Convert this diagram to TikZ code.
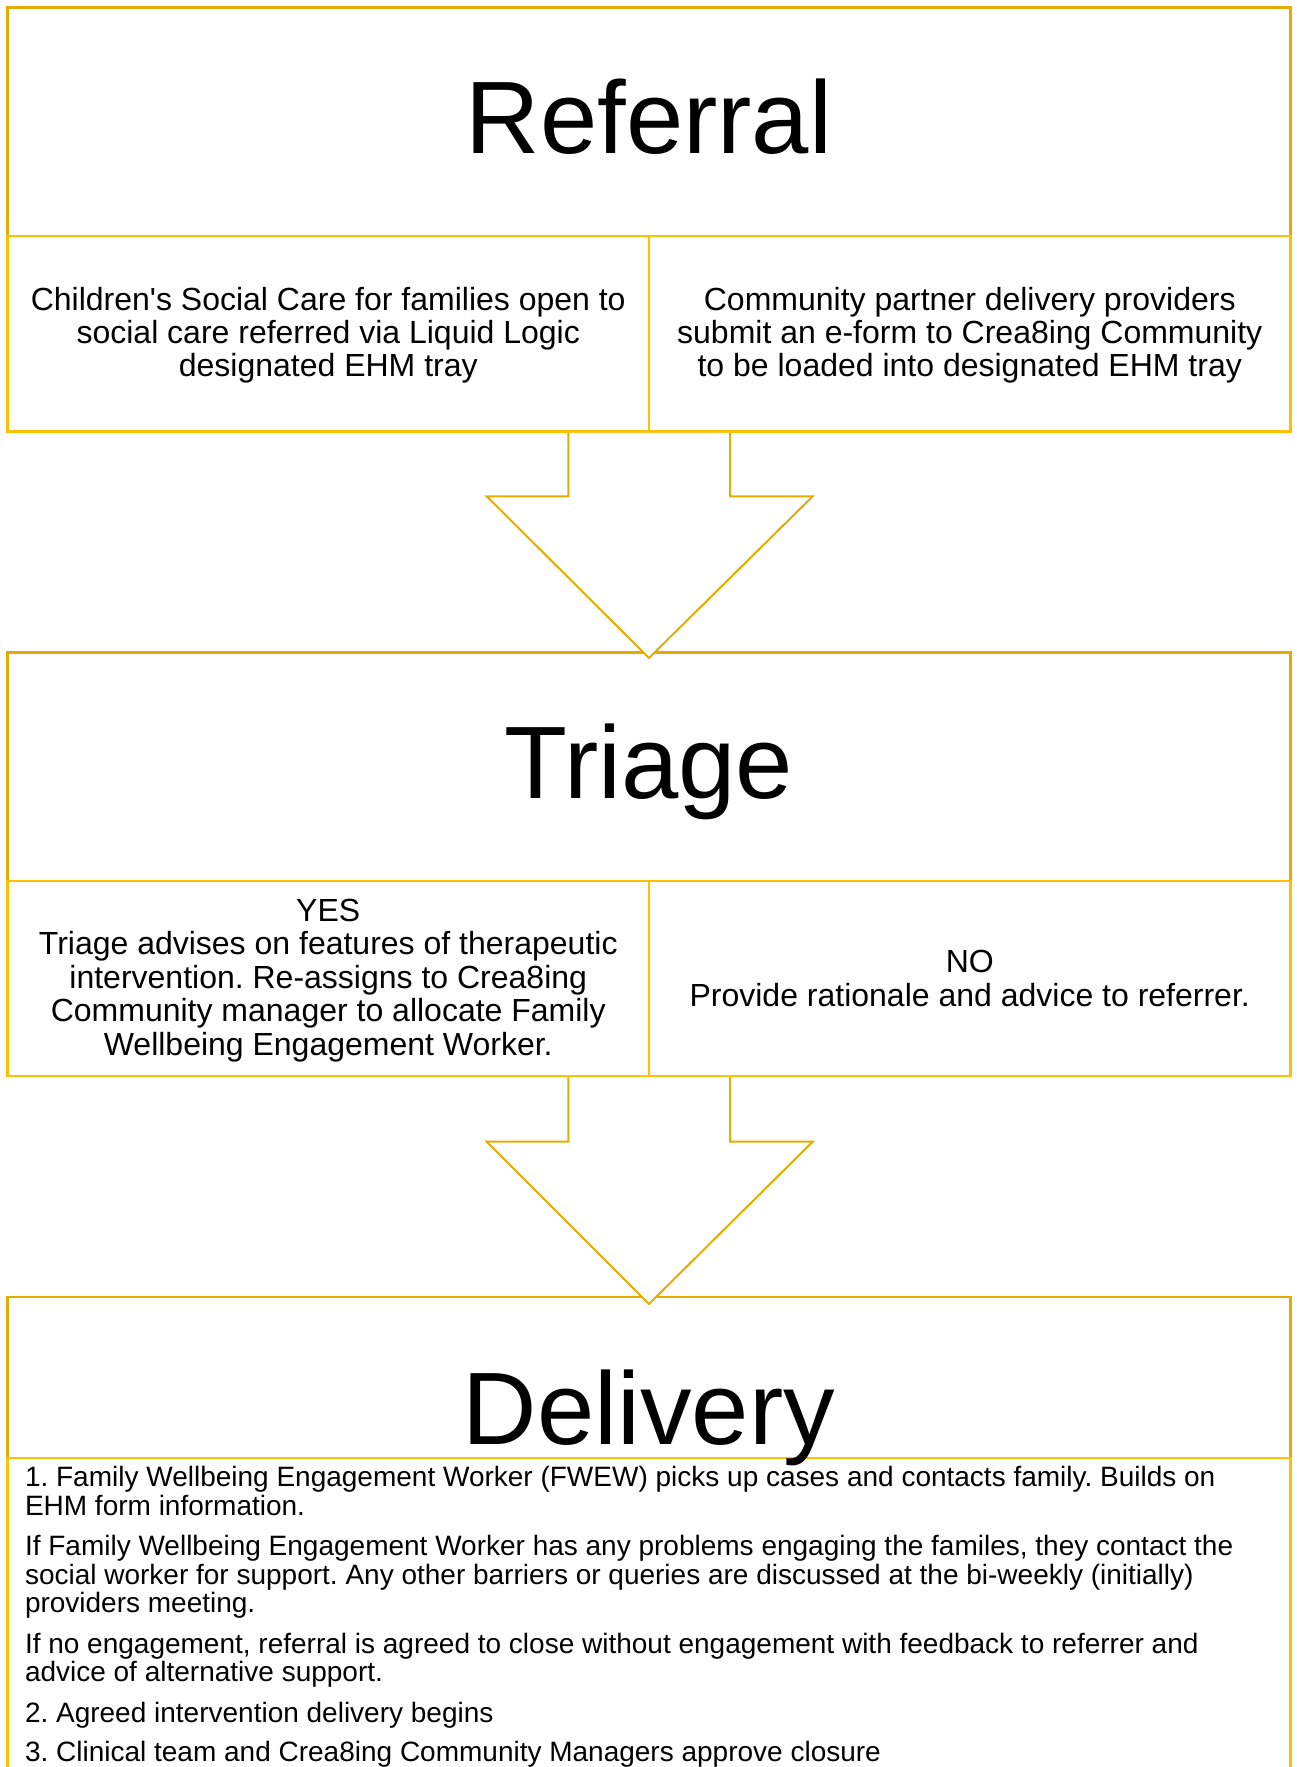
\documentclass[tikz,border=0pt]{standalone}
\usepackage{fontspec}
\setmainfont{Liberation Sans}
\usetikzlibrary{calc}
\definecolor{hdrgold}{HTML}{E6AA00}
\definecolor{rowgold}{HTML}{FFC000}
\definecolor{arrgold}{HTML}{E6AC00}
\frenchspacing
\tikzset{
  hdrbox/.style={draw=hdrgold, line width=2.5pt, anchor=north west, inner sep=0pt, outer sep=0pt},
  rowbox/.style={draw=rowgold, line width=2.5pt, anchor=north west, inner sep=0pt, outer sep=0pt},
  bigttl/.style={font=\fontsize{103}{110}\selectfont, inner sep=0pt, anchor=base},
  celltxt/.style={font=\fontsize{32}{33.3}\selectfont, align=center, inner sep=0pt},
  bodytxt/.style={font=\fontsize{28}{28.6}\selectfont, align=left, inner sep=0pt, anchor=base west},
  blockarrow/.style={draw=arrgold, line width=2pt, fill=white, line join=miter}
}
\begin{document}
\begin{tikzpicture}[x=1pt,y=-1pt]
\useasboundingbox (0,0) rectangle (1296,1767);
\clip (0,0) rectangle (1296,1767);

% ---------- Referral ----------
\node[hdrbox, minimum width=1283pt, minimum height=228.5pt] (refhdr) at (7.5,7.5) {};
\node[rowbox, minimum width=641.5pt, minimum height=195.5pt] (refL) at (7.5,236) {};
\node[rowbox, minimum width=641.5pt, minimum height=195.5pt] (refR) at (649,236) {};
\node[bigttl] (refttl) at (649,153.3) {Referral};
\node[celltxt] (refLtxt) at ($(refL.center)+(0,1.5)$) {Children\textquotesingle s Social Care for families open to\\social care referred via Liquid Logic\\designated EHM tray};
\node[celltxt] (refRtxt) at ($(refR.center)+(0,1.5)$) {Community partner delivery providers\\submit an e-form to Crea8ing Community\\to be loaded into designated EHM tray};

% ---------- Triage ----------
\node[hdrbox, minimum width=1283pt, minimum height=228.5pt] (trihdr) at (7.5,652.5) {};
\node[rowbox, minimum width=641.5pt, minimum height=195pt] (triL) at (7.5,881) {};
\node[rowbox, minimum width=641.5pt, minimum height=195pt] (triR) at (649,881) {};
\node[bigttl] (trittl) at (649,798) {Triage};
\node[celltxt, font=\fontsize{32}{33.6}\selectfont] (triLtxt) at ($(triL.center)+(0,2)$) {YES\\Triage advises on features of therapeutic\\intervention. Re-assigns to Crea8ing\\Community manager to allocate Family\\Wellbeing Engagement Worker.};
\node[celltxt] (triRtxt) at (triR.center) {NO\\Provide rationale and advice to referrer.};

% ---------- Delivery ----------
\node[hdrbox, minimum width=1283pt, minimum height=161pt] (delhdr) at (7.5,1297) {};
\node[rowbox, minimum width=1283pt, minimum height=340pt] (delbody) at (7.5,1458) {};
\node[bigttl] (delttl) at (649,1444) {Delivery};

% multi-line nodes: base anchor = baseline of the last line
\node[bodytxt] (dp1) at (24.8,1515) {1. Family Wellbeing Engagement Worker (FWEW) picks up cases and contacts family. Builds on\\EHM form information.};
\node[bodytxt] (dp2) at (24.8,1612.7) {If Family Wellbeing Engagement Worker has any problems engaging the familes, they contact the\\social worker for support. Any other barriers or queries are discussed at the bi-weekly (initially)\\providers meeting.};
\node[bodytxt] (dp3) at (24.8,1681.7) {If no engagement, referral is agreed to close without engagement with feedback to referrer and\\advice of alternative support.};
\node[bodytxt] (dp4) at (24.8,1722.3) {2. Agreed intervention delivery begins};
\node[bodytxt] (dp5) at (24.8,1761.7) {3. Clinical team and Crea8ing Community Managers approve closure};

% ---------- Block arrows ----------
\draw[blockarrow]
  ($(refL.south east)+(-80.7,1.3)$) -- ($(refL.south east)+(-80.7,64.8)$)
  -- ($(refL.south east)+(-162.3,64.8)$) -- ($(trihdr.north)+(0,5.5)$)
  -- ($(refL.south east)+(163.7,64.8)$) -- ($(refL.south east)+(81,64.8)$)
  -- ($(refL.south east)+(81,1.3)$);
\draw[blockarrow]
  ($(triL.south east)+(-80.7,1.3)$) -- ($(triL.south east)+(-80.7,65.7)$)
  -- ($(triL.south east)+(-162.3,65.7)$) -- ($(delhdr.north)+(0,7)$)
  -- ($(triL.south east)+(163.7,65.7)$) -- ($(triL.south east)+(81,65.7)$)
  -- ($(triL.south east)+(81,1.3)$);
\end{tikzpicture}
\end{document}
